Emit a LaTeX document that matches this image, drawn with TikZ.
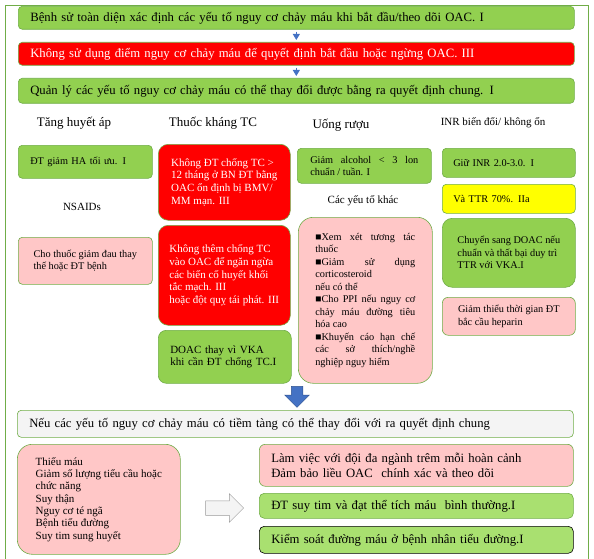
\documentclass[tikz,border=0pt]{standalone}
\usepackage{fontspec}
\setmainfont{Liberation Serif}
\usetikzlibrary{arrows.meta, positioning, shapes.arrows}

\definecolor{boxgreen}{HTML}{92D050}
\definecolor{softgreen}{HTML}{A9E070}
\definecolor{edgegreen}{HTML}{70AD47}
\definecolor{boxpink}{HTML}{FFC7C7}
\definecolor{boxgray}{HTML}{F4F4F4}
\definecolor{boxyellow}{HTML}{FFFF00}
\definecolor{arrowblue}{HTML}{4472C4}
\definecolor{arrowedge}{HTML}{2F528F}

\begin{document}
\begin{tikzpicture}[x=1pt, y=-1pt, >={Triangle[width=7pt, length=6pt]},
  card/.style={draw=edgegreen, line width=0.6pt, rounded corners=4pt, anchor=north west,
    inner xsep=12pt, inner ysep=0pt, align=left, font=\fontsize{10.3}{12.5}\selectfont},
  block/.style={card, inner xsep=0pt, minimum width=#1},
  wide/.style={card, font=\fontsize{12.7}{14.5}\selectfont},
  head/.style={font=\fontsize{13}{15}\selectfont},
  subhead/.style={font=\fontsize{11}{13}\selectfont}]
  \useasboundingbox (0,0) rectangle (594,559);
  % --- outer frame ---
  \draw[edgegreen, line width=0.8pt] (5,5) rectangle (588,570);
  % --- top chain ---
  \node[wide, fill=boxgreen, text width=532pt, minimum height=23pt] (hist) at (18,6)
    {Bệnh sử toàn diện xác định các yếu tố nguy cơ chảy máu khi bắt đầu/theo dõi OAC. I};
  \node[wide, fill=red, text=white, text width=532pt, minimum height=23pt] (score) at (18,42)
    {Không sử dụng điểm nguy cơ chảy máu để quyết định bắt đầu hoặc ngừng OAC. III};
  \node[wide, fill=boxgreen, text width=532pt, minimum height=25pt] (manage) at (18,78)
    {Quản lý các yếu tố nguy cơ chảy máu có thể thay đổi được bằng ra quyết định chung. I};
  \draw[->, arrowblue, line width=0.8pt, shorten <=2pt, shorten >=2pt] (hist) -- (score);
  \draw[->, arrowblue, line width=0.8pt, shorten <=2pt, shorten >=2pt] (score) -- (manage);
  % --- column headers ---
  \node[head] (hHA) at (74,123) {Tăng huyết áp};
  \node[head] (hTC) at (213,123) {Thuốc kháng TC};
  \node[head] (hAlc) at (341,125) {Uống rượu};
  \node[subhead] (hINR) at (493,123) {INR biến đổi/ không ổn};
  % --- column 1 ---
  \node[card, fill=boxgreen, text width=110pt, minimum height=33pt] (bp) at (18,145)
    {ĐT giảm HA tối ưu. I};
  \node[font=\fontsize{11}{12.5}\selectfont] (hNS) at (82,207) {NSAIDs};
  \node[block=134pt, fill=boxpink, minimum height=47pt] (pain) at (18,237)
    {Cho thuốc giảm đau thay\\thế hoặc ĐT bệnh};
  % --- column 2 ---
  \node[block=132pt, fill=red, text=white, rounded corners=10pt, minimum height=76pt,
    font=\fontsize{11}{12.8}\selectfont] (tcA) at (158,144)
    {Không ĐT chống TC >\\12 tháng ở BN ĐT bằng\\OAC ổn định bị BMV/\\MM mạn. III};
  \node[block=132pt, fill=red, text=white, rounded corners=10pt, minimum height=100pt,
    font=\fontsize{11}{12.8}\selectfont] (tcB) at (158,225)
    {Không thêm chống TC\\vào OAC để ngăn ngừa\\các biến cố huyết khối\\tắc mạch. III\\hoặc đột quỵ tái phát. III};
  \node[card, fill=boxgreen, rounded corners=8pt, inner xsep=12pt, text width=109pt,
    minimum height=53pt, font=\fontsize{11}{12.8}\selectfont] (tcC) at (158,330)
    {DOAC thay vì VKA\\khi cần ĐT chống TC.I};
  % --- column 3 ---
  \node[card, fill=boxgreen, align=justify, inner xsep=13pt, text width=108pt,
    minimum height=35pt] (alc) at (297,148)
    {Giảm alcohol < 3 lon\linebreak chuẩn / tuần. I};
  \node[subhead] (hOth) at (363,201) {Các yếu tố khác};
  \node[card, fill=boxpink, align=justify, rounded corners=15pt, inner xsep=17pt,
    text width=100pt, minimum height=166pt] (oth) at (298,217)
    {■Xem xét tương tác\linebreak thuốc\\
     ■Giảm sử dụng\linebreak corticosteroid\\
     nếu có thể\\
     ■Cho PPI nếu nguy cơ\linebreak chảy máu đường tiêu\linebreak hóa cao\\
     ■Khuyến cáo hạn chế\linebreak các sở thích/nghề\linebreak nghiệp nguy hiểm};
  % --- column 4 ---
  \node[card, fill=boxgreen, inner xsep=11pt, text width=111pt, minimum height=29pt] (inr) at (442,148)
    {Giữ INR 2.0-3.0. I};
  \node[card, fill=boxyellow, inner xsep=11pt, text width=111pt, minimum height=29pt] (ttr) at (442,184)
    {Và TTR 70\%. IIa};
  \node[block=133pt, fill=boxgreen, rounded corners=10pt, minimum height=69pt] (swap) at (442,218)
    {Chuyển sang DOAC nếu\\chuẩn và thất bại duy trì\\TTR với VKA.I};
  \node[block=133pt, fill=boxpink, rounded corners=6pt, minimum height=38pt] (hep) at (442,297)
    {Giảm thiểu thời gian ĐT\\bắc cầu heparin};
  % --- down arrow and second stage ---
  \node[single arrow, rotate=-90, fill=arrowblue, draw=arrowedge, line width=0.5pt,
    inner sep=5.5pt, single arrow head extend=6.5pt, minimum height=21pt] (down) at (297,394) {};
  \node[wide, fill=boxgray, text width=532pt, minimum height=27pt] (pot) at (17,410)
    {Nếu các yếu tố nguy cơ chảy máu có tiềm tàng có thể thay đổi với ra quyết định chung};
  \node[block=163pt, fill=boxpink, rounded corners=15pt, minimum height=110pt,
    font=\fontsize{11}{12.3}\selectfont] (risk) at (17,444)
    {Thiếu máu\\Giảm số lượng tiểu cầu hoặc\\chức năng\\Suy thận\\Nguy cơ té ngã\\Bệnh tiểu đường\\Suy tim sung huyết};
  \node[single arrow, fill=boxgray, draw=gray!80, line width=0.5pt,
    inner sep=7pt, single arrow head extend=7pt, minimum height=38pt] (right) at (221,508) {};
  \node[wide, fill=boxpink, rounded corners=6pt, text width=290pt, minimum height=42pt] (team) at (259,444)
    {Làm việc với đội đa ngành trêm mỗi hoàn cảnh\\Đảm bảo liều OAC\ \ chính xác và theo dõi};
  \node[wide, fill=softgreen, rounded corners=5pt, text width=290pt, minimum height=25pt] (hf) at (259,493)
    {ĐT suy tim và đạt thể tích máu\ \ bình thường.I};
  \node[wide, fill=softgreen, draw=black, rounded corners=5pt, text width=290pt, minimum height=27pt] (dm) at (259,526)
    {Kiểm soát đường máu ở bệnh nhân tiểu đường.I};
\end{tikzpicture}
\end{document}
